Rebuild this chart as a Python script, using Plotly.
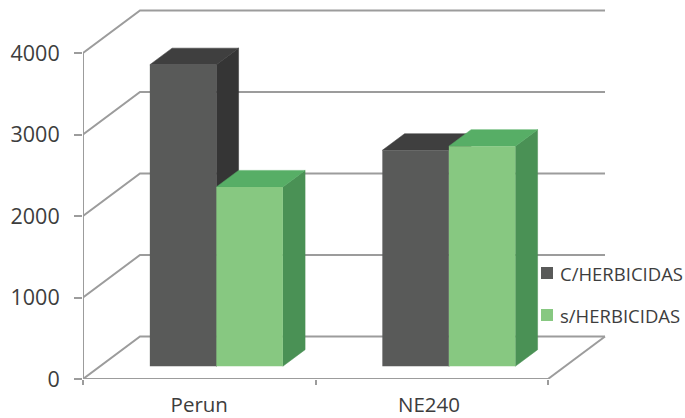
import plotly.graph_objects as go

# Chart values
categories = ["Perun", "NE240"]
series_names = ["C/HERBICIDAS", "s/HERBICIDAS"]
con_herbicidas = [3700, 2650]
sin_herbicidas = [2200, 2700]
value_ticks = [0, 1000, 2000, 3000, 4000]

# Face colours per series: front, top, side
palette = [
    dict(front="#595a59", top="#3f3f3f", side="#353535"),
    dict(front="#87c881", top="#57ae66", side="#4a9155"),
]

WIDTH, HEIGHT = 685, 418
LEFT, BOTTOM = 83, 39          # plot origin within the page
PX_PER_CATEGORY = 232.5
PX_PER_VALUE = 81.5 / 1000
FLOOR_DX = 57 / PX_PER_CATEGORY    # oblique shift of the back wall
FLOOR_DY = 42.5 / PX_PER_VALUE
NEAR, FAR = 0.30, 0.69          # depth span of the bars on the floor
BAR_WIDTH = 0.286
GAP = 0.214
GRID = "#9c9c9c"
TEXT = "#3d3d3d"

x_range = [0, (WIDTH - LEFT) / PX_PER_CATEGORY]
y_range = [0, (HEIGHT - BOTTOM) / PX_PER_VALUE]
n_cat = len(categories)
label_positions = [0.5, 1.488]


def project(x, v, depth):
    """Oblique projection of (category position, value, depth) onto the plane."""
    return x + depth * FLOOR_DX, v + depth * FLOOR_DY


def polygon(points, color, name):
    xs, ys = zip(*(project(*p) for p in points))
    return go.Scatter(
        x=list(xs) + [xs[0]], y=list(ys) + [ys[0]], mode="lines", fill="toself",
        fillcolor=color, line=dict(color=color, width=0.5),
        hoverinfo="skip", showlegend=False, name=name,
    )


fig = go.Figure()

# Walls: gridline runs from the front axis to the back wall, then across it
for v in value_ticks:
    bx, by = project(0, v, 1)
    ex, ey = project(n_cat, v, 1)
    fig.add_trace(go.Scatter(
        x=[0, bx, ex], y=[v, by, ey], mode="lines", cliponaxis=False,
        line=dict(color=GRID, width=2), hoverinfo="skip", showlegend=False,
    ))

# Floor edge on the right and the two axis lines
fx, fy = project(n_cat, 0, 1)
fig.add_trace(go.Scatter(x=[n_cat, fx], y=[0, fy], mode="lines", cliponaxis=False,
                         line=dict(color=GRID, width=2), hoverinfo="skip", showlegend=False))
fig.add_trace(go.Scatter(x=[0, 0, n_cat], y=[max(value_ticks), 0, 0], mode="lines", cliponaxis=False,
                         line=dict(color=GRID, width=2), hoverinfo="skip", showlegend=False))

# Top and side faces sit on the base axes, the front faces on the overlay above them
for s, values in enumerate([con_herbicidas, sin_herbicidas]):
    c = palette[s]
    for i, val in enumerate(values):
        x0 = i + GAP + s * BAR_WIDTH
        x1 = x0 + BAR_WIDTH
        fig.add_trace(polygon([(x1, 0, NEAR), (x1, 0, FAR), (x1, val, FAR), (x1, val, NEAR)],
                              c["side"], series_names[s]))
        fig.add_trace(polygon([(x0, val, NEAR), (x1, val, NEAR), (x1, val, FAR), (x0, val, FAR)],
                              c["top"], series_names[s]))

for s, values in enumerate([con_herbicidas, sin_herbicidas]):
    positions = []
    bases = []
    for i in range(n_cat):
        px, base = project(i + GAP + (s + 0.5) * BAR_WIDTH, 0, NEAR)
        positions.append(px)
        bases.append(base)
    fig.add_trace(go.Bar(
        x=positions, y=values, base=bases, width=BAR_WIDTH, name=series_names[s],
        marker=dict(color=palette[s]["front"], line=dict(width=0)),
        xaxis="x2", yaxis="y2", showlegend=False,
    ))


def paper_x(px):
    return (px - LEFT) / (WIDTH - LEFT)


def paper_y(px):
    return (HEIGHT - BOTTOM - px) / (HEIGHT - BOTTOM)


# Series key drawn beside the right wall
key_rows = [273, 315]
shapes = []
annotations = []
for s, row in enumerate(key_rows):
    shapes.append(dict(
        type="rect", xref="paper", yref="paper",
        x0=paper_x(541), x1=paper_x(553), y0=paper_y(row + 6), y1=paper_y(row - 6),
        fillcolor=palette[s]["front"], line=dict(width=0), layer="above",
    ))
    annotations.append(dict(
        xref="paper", yref="paper", x=paper_x(558), y=paper_y(row), text=series_names[s],
        showarrow=False, xanchor="left", yanchor="middle",
        font=dict(family="Open Sans", size=18.5, color=TEXT),
    ))

fig.update_layout(
    width=WIDTH, height=HEIGHT,
    margin=dict(l=LEFT, r=0, t=0, b=BOTTOM, pad=0, autoexpand=False),
    paper_bgcolor="white", plot_bgcolor="white",
    showlegend=False, barmode="overlay",
    shapes=shapes, annotations=annotations,
    xaxis=dict(
        range=x_range, tickmode="array", automargin=False,
        tickvals=label_positions, ticktext=categories,
        ticks="", showgrid=False, zeroline=False, showline=False,
        ticklabelstandoff=11,
        tickfont=dict(family="Open Sans", size=20.5, color=TEXT),
        minor=dict(tickmode="array", tickvals=list(range(n_cat + 1)), ticks="outside",
                   ticklen=5, tickcolor=GRID, tickwidth=2),
    ),
    yaxis=dict(
        range=y_range, tickmode="array", tickvals=value_ticks, automargin=False,
        ticks="outside", ticklen=8, tickcolor=GRID, tickwidth=2,
        showgrid=False, zeroline=False, showline=False,
        ticklabelstandoff=10,
        tickfont=dict(family="Open Sans", size=21.5, color=TEXT),
    ),
    xaxis2=dict(range=x_range, overlaying="x", visible=False),
    yaxis2=dict(range=y_range, overlaying="y", visible=False),
)

fig.write_html("out.html", config=dict(displayModeBar=False))
